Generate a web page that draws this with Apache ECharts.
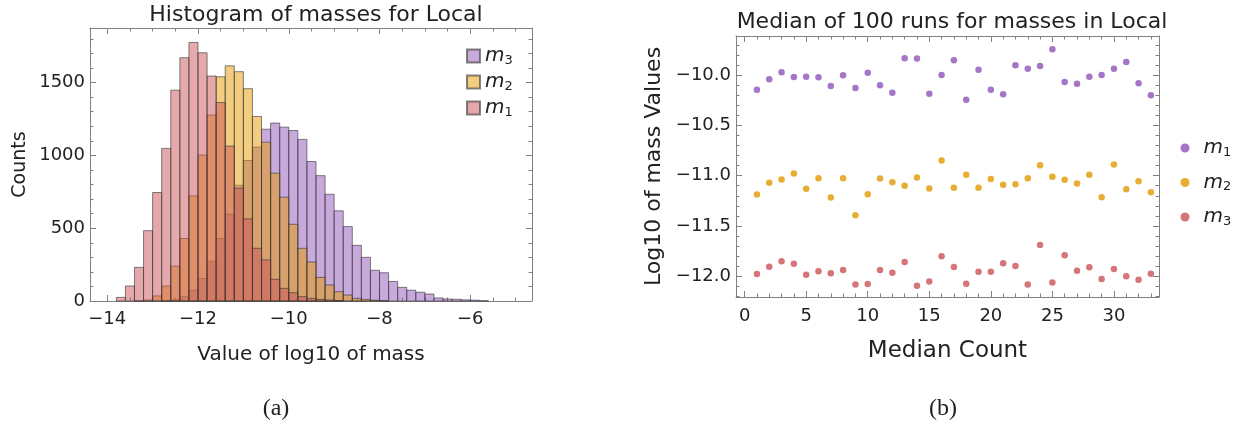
<!DOCTYPE html>
<html>
<head>
<meta charset="utf-8">
<script src="https://cdn.jsdelivr.net/npm/echarts@6/dist/echarts.min.js"></script>
<style>
  html, body { margin: 0; padding: 0; background: #fff; }
  #chart { width: 1248px; height: 426px; }
</style>
</head>
<body>
<div id="chart"></div>
<script>
// histogram (a): bins of width 0.2, left edges
const binWidth = 0.2;
const binStarts = [-13.8, -13.6, -13.4, -13.2, -13.0, -12.8, -12.6, -12.4, -12.2, -12.0,
    -11.8, -11.6, -11.4, -11.2, -11.0, -10.8, -10.6, -10.4, -10.2, -10.0,
    -9.8, -9.6, -9.4, -9.2, -9.0, -8.8, -8.6, -8.4, -8.2, -8.0,
    -7.8, -7.6, -7.4, -7.2, -7.0, -6.8, -6.6, -6.4, -6.2, -6.0, -5.8];
const m1Counts = [25, 103, 231, 483, 745, 1048, 1448, 1671, 1776, 1705,
    1545, 1363, 1064, 775, 564, 362, 282, 149, 87, 57,
    30, 18, 11, 7, 3, 0, 0, 0, 0, 0,
    0, 0, 0, 0, 0, 0, 0, 0, 0, 0, 0];
const m2Counts = [0, 0, 2, 7, 35, 103, 240, 429, 722, 1002,
    1277, 1540, 1615, 1575, 1458, 1267, 1091, 878, 713, 527,
    362, 268, 162, 110, 64, 41, 18, 11, 5, 2,
    0, 0, 0, 0, 0, 0, 0, 0, 0, 0, 0];
const m3Counts = [0, 0, 0, 0, 0, 3, 10, 30, 75, 155,
    274, 430, 597, 795, 965, 1057, 1180, 1222, 1194, 1171,
    1110, 958, 861, 733, 619, 511, 382, 300, 211, 194,
    134, 94, 74, 60, 48, 21, 14, 12, 8, 6, 2];

// scatter (b): median of 100 runs
const runs = [1, 2, 3, 4, 5, 6, 7, 8, 9, 10, 11, 12, 13, 14, 15, 16, 17,
    18, 19, 20, 21, 22, 23, 24, 25, 26, 27, 28, 29, 30, 31, 32, 33];
const m1Median = [-10.146, -10.043, -9.973, -10.020, -10.017, -10.023, -10.109, -10.003, -10.129, -9.977,
    -10.103, -10.176, -9.834, -9.837, -10.186, -10.000, -9.854, -10.245, -9.947, -10.146,
    -10.192, -9.904, -9.937, -9.910, -9.745, -10.070, -10.086, -10.017, -10.000, -9.937,
    -9.871, -10.083, -10.202];
const m2Median = [-11.187, -11.071, -11.038, -10.978, -11.131, -11.025, -11.217, -11.025, -11.393, -11.184,
    -11.028, -11.065, -11.101, -11.018, -11.128, -10.849, -11.121, -10.992, -11.121, -11.032,
    -11.091, -11.085, -11.025, -10.896, -11.012, -11.041, -11.078, -10.992, -11.214, -10.889,
    -11.134, -11.055, -11.164];
const m3Median = [-11.977, -11.904, -11.851, -11.874, -11.983, -11.950, -11.970, -11.937, -12.080, -12.076,
    -11.937, -11.964, -11.857, -12.093, -12.050, -11.801, -11.907, -12.073, -11.954, -11.954,
    -11.871, -11.897, -12.080, -11.688, -12.060, -11.791, -11.944, -11.910, -12.027, -11.927,
    -12.000, -12.033, -11.973];

// tick labels
const histXTicks = [-14, -12, -10, -8, -6];
const histYTicks = [0, 500, 1000, 1500];
const medXTicks = [0, 5, 10, 15, 20, 25, 30];
const medYTicks = [-12.0, -11.5, -11.0, -10.5, -10.0];

const FONT = 'DejaVu Sans';
const frameColor = '#808080';
const textColor = '#222';
const red = [203, 83, 87], orange = [229, 153, 0], purple = [143, 83, 185];
const rgba = (c, a) => `rgba(${c[0]},${c[1]},${c[2]},${a})`;

function steps(from, to, step) {
    const out = [];
    for (let v = from; v <= to + 1e-9; v += step) out.push(Math.round(v * 1000) / 1000);
    return out;
}
const minusFmt = v => String(v).replace('-', '\u2212');
const oneDecFmt = v => Number(v).toFixed(1).replace('-', '\u2212');

function frameAxes(dim, gridIndex, min, max, majors, minors, fmt, labelMargin, name, nameGap, nameSize) {
    const first = dim === 'x' ? 'bottom' : 'left';
    const second = dim === 'x' ? 'top' : 'right';
    const base = {
        type: 'value', gridIndex, min, max,
        splitLine: { show: false },
        axisLine: { show: false, onZero: false }
    };
    const line = { show: true, onZero: false, lineStyle: { color: frameColor, width: 1 } };
    const tick = (vals, len) => ({ show: true, inside: true, length: len, customValues: vals,
        lineStyle: { color: frameColor, width: 1 } });
    return [
        Object.assign({}, base, {
            position: first, axisLine: line, axisTick: tick(majors, 6),
            axisLabel: { show: true, customValues: majors, formatter: fmt, margin: labelMargin,
                fontFamily: FONT, fontSize: 18, color: textColor },
            name, nameLocation: 'middle', nameGap,
            nameTextStyle: { fontFamily: FONT, fontSize: nameSize, color: textColor }
        }),
        Object.assign({}, base, { position: first, axisTick: tick(minors, 3.5), axisLabel: { show: false } }),
        Object.assign({}, base, { position: second, axisLine: line, axisTick: tick(majors, 6), axisLabel: { show: false } }),
        Object.assign({}, base, { position: second, axisTick: tick(minors, 3.5), axisLabel: { show: false } })
    ];
}

function histSeries(name, counts, color) {
    return {
        name, type: 'custom', xAxisIndex: 0, yAxisIndex: 0,
        itemStyle: { color: rgba(color, 0.5), borderColor: 'rgba(50,50,50,0.6)', borderWidth: 1 },
        data: binStarts.map((b, i) => [b, counts[i]]),
        renderItem: (params, api) => {
            const x0 = api.value(0);
            const h = api.value(1);
            if (!h) return null;
            const p0 = api.coord([x0, 0]);
            const p1 = api.coord([x0 + binWidth, h]);
            return {
                type: 'rect',
                shape: { x: p0[0], y: p1[1], width: p1[0] - p0[0], height: p0[1] - p1[1] },
                style: { fill: rgba(color, 0.5), stroke: 'rgba(50,50,50,0.6)', lineWidth: 1 }
            };
        }
    };
}

function medSeries(name, values, color) {
    return {
        name, type: 'scatter', xAxisIndex: 4, yAxisIndex: 4,
        symbolSize: 6.5,
        itemStyle: { color: rgba(color, 1) },
        data: runs.map((r, i) => [r, values[i]])
    };
}

const subRich = {
    i: { fontFamily: FONT, fontStyle: 'italic', fontSize: 20, color: textColor, lineHeight: 22 },
    s: { fontFamily: FONT, fontSize: 13, color: textColor, verticalAlign: 'bottom', lineHeight: 12 }
};
const subFmt = name => `{i|m}{s|${name.slice(1)}}`;

const chart = echarts.init(document.getElementById('chart'));
chart.setOption({
    animation: false,
    backgroundColor: '#fff',
    title: [
        { text: 'Histogram of masses for Local', left: 311, top: -1, textAlign: 'center',
          textStyle: { fontFamily: FONT, fontSize: 22, fontWeight: 'normal', color: textColor } },
        { text: 'Median of 100 runs for masses in Local', left: 947, top: 6, textAlign: 'center',
          textStyle: { fontFamily: FONT, fontSize: 22, fontWeight: 'normal', color: textColor } },
        { text: '(a)', left: 271, top: 392, textAlign: 'center',
          textStyle: { fontFamily: 'Liberation Serif', fontSize: 24, fontWeight: 'normal', color: textColor } },
        { text: '(b)', left: 938, top: 392, textAlign: 'center',
          textStyle: { fontFamily: 'Liberation Serif', fontSize: 24, fontWeight: 'normal', color: textColor } }
    ],
    legend: [
        { data: ['h3', 'h2', 'h1'], orient: 'vertical', left: 466, top: 46, padding: 0,
          icon: 'rect', itemWidth: 13, itemHeight: 13, itemGap: 5,
          formatter: subFmt, textStyle: { rich: subRich } },
        { data: ['s1', 's2', 's3'], orient: 'vertical', left: 1180.5, top: 138, padding: 0,
          icon: 'circle', itemWidth: 9, itemHeight: 9, itemGap: 13.5,
          formatter: subFmt,
          textStyle: { rich: { i: Object.assign({}, subRich.i, { padding: [0, 0, 0, 9] }), s: subRich.s } } }
    ],
    grid: [
        { left: 90, top: 28, width: 442, height: 273 },
        { left: 736, top: 36, width: 423, height: 261 }
    ],
    xAxis: [
        ...frameAxes('x', 0, -14.38, -4.64, histXTicks, steps(-14, -5, 0.5), minusFmt, 9,
            'Value of log10 of mass', 44, 20),
        ...frameAxes('x', 1, -0.7, 33.66, medXTicks, steps(0, 33, 1), minusFmt, 10,
            'Median Count', 43, 23)
    ],
    yAxis: [
        ...frameAxes('y', 0, 0, 1875, histYTicks, steps(0, 1800, 100), minusFmt, 5,
            'Counts', 60, 19),
        ...frameAxes('y', 1, -12.205, -9.613, medYTicks, steps(-12.2, -9.7, 0.1), oneDecFmt, 5,
            'Log10 of mass Values', 71, 22)
    ],
    series: [
        histSeries('h3', m3Counts, purple),
        histSeries('h2', m2Counts, orange),
        histSeries('h1', m1Counts, red),
        medSeries('s1', m1Median, purple),
        medSeries('s2', m2Median, orange),
        medSeries('s3', m3Median, red)
    ]
});
</script>
</body>
</html>
